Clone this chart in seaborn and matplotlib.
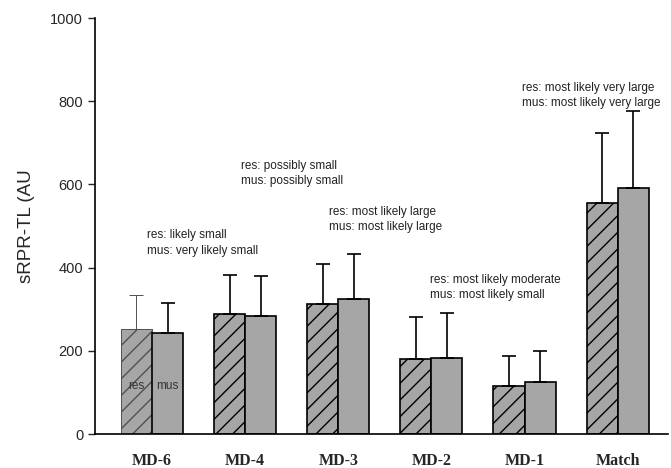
import pandas as pd
import matplotlib.pyplot as plt
import numpy as np
import seaborn as sns

sns.set_style('ticks')
plt.rcParams['font.family'] = ['Liberation Sans', 'DejaVu Sans']

days = ['MD-6', 'MD-4', 'MD-3', 'MD-2', 'MD-1', 'Match']
res_mean = [252, 288, 313, 180, 116, 555]
res_sd = [82, 94, 96, 101, 72, 169]
mus_mean = [243, 284, 325, 183, 125, 591]
mus_sd = [72, 96, 108, 108, 75, 185]

notes = [
    'res: likely small\nmus: very likely small',
    'res: possibly small\nmus: possibly small',
    'res: most likely large\nmus: most likely large',
    'res: most likely moderate\nmus: most likely small',
    'res: most likely very large\nmus: most likely very large',
]
note_x = [-0.05, 0.96, 1.9, 2.98, 3.97]
note_y = [459, 626, 516, 352, 814]

df = pd.DataFrame({
    'day': days * 2,
    'group': ['res'] * len(days) + ['mus'] * len(days),
    'load': res_mean + mus_mean,
})

fig = plt.figure(figsize=(6.71, 4.68), dpi=100)
ax = fig.add_axes([0.1416, 0.0726, 0.8539, 0.8889])

grey = '#a6a6a6'
sns.barplot(data=df, x='day', y='load', hue='group', hue_order=['res', 'mus'],
            palette=[grey, grey], width=0.667, errorbar=None,
            edgecolor='black', linewidth=1.2, saturation=1, legend=False, ax=ax)

sds = {'res': res_sd, 'mus': mus_sd}
for cont, grp in zip(ax.containers, ['res', 'mus']):
    for i, bar in enumerate(cont):
        xc = bar.get_x() + bar.get_width() / 2
        top = bar.get_height()
        first = (grp == 'res' and i == 0)
        col = '#505050' if first else 'black'
        lw = 0.7 if first else 1.2
        if grp == 'res':
            bar.set_hatch('//')
        if first:
            bar.set_edgecolor(col)
            bar.set_linewidth(lw)
        ax.errorbar(xc, top, yerr=[[0], [sds[grp][i]]], fmt='none',
                    ecolor=col, elinewidth=lw, capsize=5, capthick=lw, zorder=1)

for bar, lab in zip([ax.containers[0][0], ax.containers[1][0]], ['res', 'mus']):
    ax.text(bar.get_x() + bar.get_width() / 2, 115, lab, ha='center', va='center',
            fontsize=8.5, color='#333333')

for x, y, t in zip(note_x, note_y, notes):
    ax.text(x, y, t, ha='left', va='center', fontsize=8.5, color='#222222',
            linespacing=1.4)

ax.set_xlim(-0.612, 5.54)
ax.set_ylim(0, 1000)
ax.set_yticks(range(0, 1001, 200))
ax.tick_params(axis='y', labelsize=10.5, length=5, width=1, direction='out')
ax.tick_params(axis='x', length=0, pad=14)
for lab in ax.get_xticklabels():
    lab.set_fontfamily('Liberation Serif')
    lab.set_fontweight('bold')
    lab.set_fontsize(11.5)
ax.set_xlabel('')
ax.set_ylabel('sRPR-TL (AU', fontsize=13.5, labelpad=11)
sns.despine(ax=ax)
for s in ['left', 'bottom']:
    ax.spines[s].set_linewidth(1.2)
    ax.spines[s].set_color('black')

fig.savefig('out.png', dpi=100)
